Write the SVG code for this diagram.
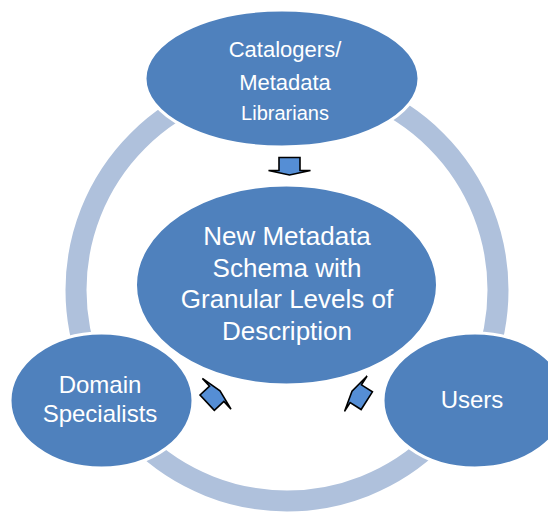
<svg xmlns="http://www.w3.org/2000/svg" width="548" height="514" viewBox="0 0 548 514">
<style>
.node{fill:#4F81BD;stroke:#FFFFFF;stroke-width:3}
.lbl{fill:#FFFFFF;font-family:"Liberation Sans",Arial,sans-serif;text-anchor:middle}
.arr{fill:#558ED5;stroke:#000000;stroke-width:1.6;stroke-linejoin:miter}
</style>
<defs>
<path id="blk" d="M -10.5,-13 H 10.5 V 0 H 21 L 0,4.5 L -21,0 H -10.5 Z"/>
</defs>
<rect width="548" height="514" fill="#FFFFFF"/>
<g id="connectors">
<circle cx="287" cy="290" r="211" fill="none" stroke="#AFC1DC" stroke-width="21"/>
</g>
<g id="center">
<ellipse class="node" cx="286.5" cy="285" rx="151" ry="100"/>
<text class="lbl" font-size="26"><tspan x="287" y="245">New Metadata</tspan><tspan x="287" y="277">Schema with</tspan><tspan x="287" y="308">Granular Levels of</tspan><tspan x="287" y="340">Description</tspan></text>
</g>
<g id="catalogers">
<ellipse class="node" cx="282" cy="78.5" rx="137" ry="68.5"/>
<text class="lbl" font-size="22"><tspan x="285" y="57">Catalogers/</tspan><tspan x="285" y="90">Metadata</tspan></text>
<text class="lbl" font-size="20" x="285" y="120">Librarians</text>
</g>
<g id="domain">
<ellipse class="node" cx="101.5" cy="400.5" rx="91.5" ry="67.5"/>
<text class="lbl" font-size="24"><tspan x="100" y="393">Domain</tspan><tspan x="100" y="422">Specialists</tspan></text>
</g>
<g id="users">
<ellipse class="node" cx="475" cy="400.5" rx="92" ry="67.5"/>
<text class="lbl" font-size="24" x="472" y="408">Users</text>
</g>
<g id="arrows">
<use href="#blk" class="arr" transform="translate(289.5,170.5)"/>
<use href="#blk" class="arr" transform="translate(216.7,393.8) rotate(-133)"/>
<use href="#blk" class="arr" transform="translate(355.8,393.7) rotate(122.5)"/>
</g>
</svg>
